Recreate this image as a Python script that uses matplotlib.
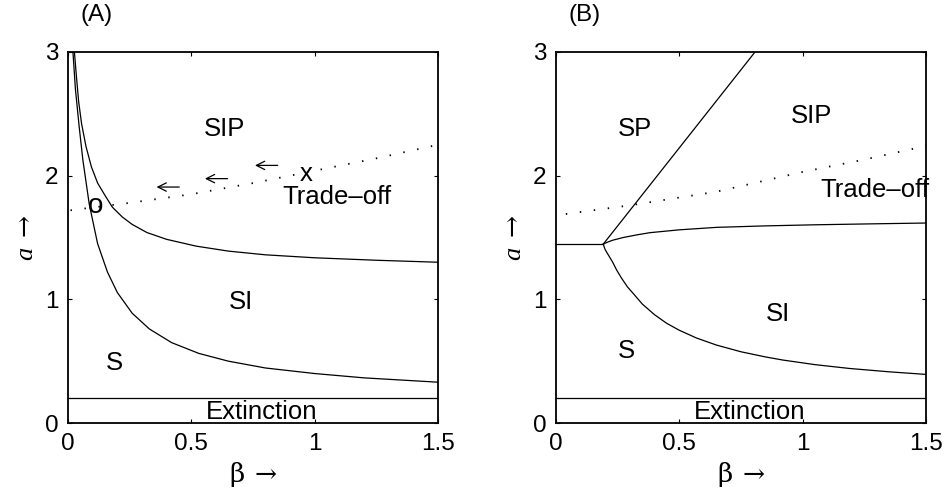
import numpy as np
import matplotlib.pyplot as plt

plt.rcParams['font.family'] = ['Liberation Sans', 'DejaVu Sans']
plt.rcParams['mathtext.fontset'] = 'custom'
plt.rcParams['mathtext.rm'] = 'DejaVu Serif'
plt.rcParams['mathtext.it'] = 'Liberation Serif:italic'

# ------------------------- Panel (A) boundaries ------------------------- #
beta_s_si_A = [0.02, 0.03, 0.045, 0.06, 0.086, 0.12, 0.16, 0.2, 0.26, 0.33,
               0.42, 0.53, 0.65, 0.8, 1.0, 1.2, 1.5]
a_s_si_A = [3.0, 2.7, 2.4, 2.13, 1.77, 1.45, 1.22, 1.055, 0.888, 0.76,
            0.65, 0.563, 0.50, 0.445, 0.40, 0.365, 0.33]

beta_si_sip_A = [0.026, 0.032, 0.043, 0.055, 0.073, 0.095, 0.12, 0.15, 0.18,
                 0.22, 0.26, 0.32, 0.40, 0.52, 0.65, 0.80, 1.0, 1.25, 1.5]
a_si_sip_A = [3.0, 2.85, 2.6, 2.42, 2.235, 2.07, 1.94, 1.84, 1.745,
              1.666, 1.606, 1.54, 1.485, 1.43, 1.39, 1.36, 1.336, 1.316, 1.30]

beta_trade_A = [0.01, 0.25, 0.5, 0.75, 1.0, 1.25, 1.5]
a_trade_A = [1.72, 1.78, 1.85, 1.94, 2.04, 2.14, 2.25]

# ------------------------- Panel (B) boundaries ------------------------- #
beta_s_sp_B = [0.0, 0.192]
a_s_sp_B = [1.447, 1.447]

beta_sp_sip_B = [0.192, 0.807]
a_sp_sip_B = [1.447, 3.0]

beta_si_sip_B = [0.192, 0.21, 0.23, 0.273, 0.33, 0.381, 0.5, 0.651, 0.85,
                 1.057, 1.3, 1.5]
a_si_sip_B = [1.447, 1.463, 1.478, 1.50, 1.522, 1.539, 1.562, 1.582, 1.594,
              1.603, 1.611, 1.617]

beta_s_si_B = [0.192, 0.196, 0.2, 0.215, 0.23, 0.246, 0.265, 0.29, 0.313,
               0.35, 0.4, 0.449, 0.5, 0.57, 0.651, 0.75, 0.85, 0.92, 1.05,
               1.19, 1.35, 1.5]
a_s_si_B = [1.447, 1.42, 1.40, 1.35, 1.30, 1.237, 1.174, 1.10, 1.048,
            0.962, 0.875, 0.806, 0.75, 0.687, 0.63, 0.576, 0.534, 0.509,
            0.472, 0.441, 0.414, 0.393]

beta_trade_B = [0.04, 0.3, 0.65, 1.0, 1.25, 1.5]
a_trade_B = [1.69, 1.76, 1.87, 2.03, 2.13, 2.24]

a_extinction = 0.2

# region labels: (text, beta, a)
labels_A = [('SIP', 0.635, 2.323), ('Trade\u2013off', 1.09, 1.774),
            ('SI', 0.703, 0.922), ('S', 0.186, 0.426),
            ('Extinction', 0.784, 0.032)]
labels_B = [('SP', 0.32, 2.323), ('SIP', 1.036, 2.426),
            ('Trade\u2013off', 1.293, 1.827), ('SI', 0.901, 0.822),
            ('S', 0.286, 0.526), ('Extinction', 0.784, 0.032)]

# evolution arrows along the trade-off in (A): centres and length
arrow_beta = [0.405, 0.601, 0.804]
arrow_a = [1.908, 1.976, 2.083]
arrow_len = 0.092
start_beta, start_a = 0.966, 1.955   # 'x'
end_beta, end_a = 0.111, 1.700       # 'o'


def style_axes(ax, tag):
    ax.set_xlim(0, 1.5)
    ax.set_ylim(0, 3)
    ax.set_xticks([0, 0.5, 1, 1.5])
    ax.set_xticklabels(['0', '0.5', '1', '1.5'])
    ax.set_yticks([0, 1, 2, 3])
    ax.tick_params(direction='in', top=True, right=True, length=3,
                   width=0.8, labelsize=17.5)
    ax.tick_params(axis='x', pad=7)
    ax.tick_params(axis='y', pad=7)
    for sp in ax.spines.values():
        sp.set_linewidth(1.3)
    ax.set_xlabel(r'$\mathrm{\beta}\ \rightarrow$', fontsize=19, labelpad=4)
    ax.set_ylabel(r'$a\ \rightarrow$', fontsize=19, labelpad=5)
    ax.text(0.078, 1.10, tag, transform=ax.transAxes, fontsize=17.5,
            ha='center', va='center')
    ax.axhline(a_extinction, color='k', lw=0.9)


fig = plt.figure(figsize=(9.46, 4.99), dpi=100)
axA = fig.add_axes([0.0719, 0.1523, 0.3911, 0.7435])
axB = fig.add_axes([0.5877, 0.1523, 0.3911, 0.7435])

lw = 0.9
dots = (0, (0.8, 7))

# (A)
axA.plot(beta_s_si_A, a_s_si_A, 'k', lw=lw)
axA.plot(beta_si_sip_A, a_si_sip_A, 'k', lw=lw)
axA.plot(beta_trade_A, a_trade_A, color='k', lw=1.3, linestyle=dots)
for txt, b, a in labels_A:
    axA.text(b, a, txt, fontsize=18.5, ha='center', va='baseline')
for b, a in zip(arrow_beta, arrow_a):
    axA.annotate('', xy=(b - arrow_len / 2, a), xytext=(b + arrow_len / 2, a),
                 arrowprops=dict(arrowstyle='->,head_length=0.6,head_width=0.3',
                                 lw=0.9, color='k', shrinkA=0, shrinkB=0))
axA.text(start_beta, start_a, 'x', fontsize=18.5, ha='center', va='baseline')
axA.text(end_beta, end_a, 'o', fontsize=20, ha='center', va='baseline')
style_axes(axA, '(A)')

# (B)
axB.plot(beta_s_sp_B, a_s_sp_B, 'k', lw=lw)
axB.plot(beta_sp_sip_B, a_sp_sip_B, 'k', lw=lw)
axB.plot(beta_si_sip_B, a_si_sip_B, 'k', lw=lw)
axB.plot(beta_s_si_B, a_s_si_B, 'k', lw=lw)
axB.plot(beta_trade_B, a_trade_B, color='k', lw=1.3, linestyle=dots)
for txt, b, a in labels_B:
    axB.text(b, a, txt, fontsize=18.5, ha='center', va='baseline')
style_axes(axB, '(B)')

fig.savefig('out.png', dpi=100)
